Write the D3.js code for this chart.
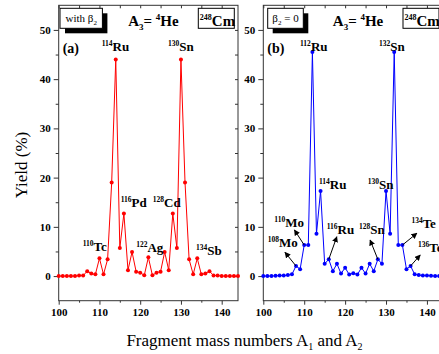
<!DOCTYPE html>
<html>
<head>
<meta charset="utf-8">
<script src="https://cdn.jsdelivr.net/npm/d3@7"></script>
<style>
  body { margin: 0; background: #fff; }
  text { font-family: "Liberation Serif", "Times New Roman", serif; }
</style>
</head>
<body>
<div id="chart"></div>
<script>
const width = 439;
const height = 354;

// mass numbers of the fragments
const massNumbers = [100, 101, 102, 103, 104, 105, 106, 107, 108, 109, 110, 111, 112, 113, 114,
  115, 116, 117, 118, 119, 120, 121, 122, 123, 124, 125, 126, 127, 128, 129, 130, 131, 132,
  133, 134, 135, 136, 137, 138, 139, 140, 141, 142, 143, 144];

// (a) with beta2
const yieldWithBeta = [0, 0, 0, 0, 0, 0.1, 0.1, 1.0, 0.5, 0.35, 3.6, 0.35, 3.4, 19.0, 44.0,
  5.7, 12.7, 1.2, 4.9, 0.9, 0.7, 0.15, 3.8, 0.15, 0.7, 0.9, 4.9, 1.2, 12.7, 5.7, 44.0, 19.0, 3.4,
  0.35, 3.6, 0.35, 0.5, 1.0, 0.1, 0.1, 0, 0, 0, 0, 0];

// (b) beta2 = 0
const yieldNoBeta = [0, 0, 0, 0.05, 0.1, 0.1, 0.2, 0.35, 2.05, 1.4, 6.3, 6.3, 45.5, 8.6, 17.3,
  2.5, 3.4, 1.0, 2.5, 0.5, 1.7, 0.3, 0.6, 0.3, 1.7, 0.5, 2.5, 1.0, 3.4, 2.5, 17.3, 8.6, 45.5,
  6.3, 6.3, 1.4, 2.05, 0.35, 0.2, 0.1, 0.1, 0.05, 0, 0, 0];

const xTicks = [100, 110, 120, 130, 140];
const xMinorTicks = [105, 115, 125, 135];
const yTicks = [0, 10, 20, 30, 40, 50];
const yMinorTicks = [5, 15, 25, 35, 45];

// peak labels: superscript, element, anchor in data units
const labelsA = [
  { sup: '114', el: 'Ru', x: 110.55, y: 45.66 },
  { sup: '130', el: 'Sn', x: 126.8, y: 45.66 },
  { sup: '116', el: 'Pd', x: 115.2, y: 14.0 },
  { sup: '128', el: 'Cd', x: 123.1, y: 14.06 },
  { sup: '110', el: 'Tc', x: 105.9, y: 5.16 },
  { sup: '122', el: 'Ag', x: 119.0, y: 4.95 },
  { sup: '134', el: 'Sb', x: 133.7, y: 4.28 }
];
const labelsB = [
  { sup: '112', el: 'Ru', x: 108.98, y: 45.66 },
  { sup: '132', el: 'Sn', x: 128.3, y: 45.66 },
  { sup: '114', el: 'Ru', x: 113.6, y: 17.67 },
  { sup: '130', el: 'Sn', x: 125.56, y: 17.73 },
  { sup: '110', el: 'Mo', x: 102.7, y: 9.93 },
  { sup: '108', el: 'Mo', x: 101.1, y: 5.85 },
  { sup: '116', el: 'Ru', x: 115.5, y: 8.56 },
  { sup: '128', el: 'Sn', x: 123.4, y: 8.56 },
  { sup: '134', el: 'Te', x: 136.2, y: 9.72 },
  { sup: '136', el: 'Te', x: 137.8, y: 4.95 }
];
// arrows in (b): from data point (mass) to head (x, y)
const arrowsB = [
  { mass: 110, x: 107.6, y: 9.38 },
  { mass: 108, x: 105.3, y: 4.83 },
  { mass: 116, x: 117.97, y: 8.0 },
  { mass: 128, x: 126.1, y: 7.34 },
  { mass: 134, x: 137.55, y: 8.7 },
  { mass: 136, x: 138.36, y: 4.28 }
];

const svg = d3.select('#chart')
  .append('svg')
  .attr('width', width)
  .attr('height', height);

svg.append('defs').append('marker')
  .attr('id', 'arrow')
  .attr('viewBox', '0 0 10 10')
  .attr('refX', 9)
  .attr('refY', 5)
  .attr('markerWidth', 6)
  .attr('markerHeight', 6)
  .attr('markerUnits', 'userSpaceOnUse')
  .attr('orient', 'auto')
  .append('path')
  .attr('d', 'M0,0L10,5L0,10z')
  .attr('fill', '#000');

const plotTop = 5.3, plotBottom = 300.7;

function addIsotope(g, x, y, sup, el, supSize, elSize) {
  const t = g.append('text')
    .attr('x', x)
    .attr('y', y)
    .attr('font-weight', 'bold');
  t.append('tspan').attr('font-size', supSize).attr('dy', -elSize * 0.38).text(sup);
  t.append('tspan').attr('font-size', elSize).attr('dy', elSize * 0.38).text(el);
  return t;
}

function drawPanel(cfg) {
  const x = d3.scaleLinear().domain([100, 144]).range([cfg.left, cfg.right]);
  const y = d3.scaleLinear().domain([-5, 55]).range([plotBottom, plotTop]);
  const g = svg.append('g');

  // frame
  g.append('rect')
    .attr('x', cfg.left).attr('y', plotTop)
    .attr('width', cfg.right - cfg.left).attr('height', plotBottom - plotTop)
    .attr('fill', 'none').attr('stroke', '#333').attr('stroke-width', 1);

  const xAxis = g.append('g')
    .attr('transform', `translate(0,${plotBottom})`)
    .call(d3.axisBottom(x).tickValues(xTicks).tickSize(4).tickPadding(4));
  xAxis.select('.domain').remove();
  xAxis.selectAll('text')
    .attr('font-family', '"Liberation Serif", serif')
    .attr('font-size', 11).attr('font-weight', 'bold').attr('fill', '#000');
  xAxis.selectAll('line').attr('stroke', '#333');

  g.append('g')
    .attr('transform', `translate(0,${plotBottom})`)
    .call(d3.axisBottom(x).tickValues(xMinorTicks).tickSize(2).tickFormat(''))
    .call(a => a.select('.domain').remove())
    .selectAll('line').attr('stroke', '#333');

  g.append('g')
    .attr('transform', `translate(0,${plotTop})`)
    .call(d3.axisBottom(x).tickValues(xTicks.concat(xMinorTicks)).tickSize(3).tickFormat(''))
    .call(a => a.select('.domain').remove())
    .selectAll('line').attr('stroke', '#333');

  const yAxis = g.append('g')
    .attr('transform', `translate(${cfg.left},0)`)
    .call(d3.axisLeft(y).tickValues(yTicks).tickSize(5).tickPadding(3));
  yAxis.select('.domain').remove();
  yAxis.selectAll('text')
    .attr('font-family', '"Liberation Serif", serif')
    .attr('font-size', 11).attr('font-weight', 'bold').attr('fill', '#000');
  yAxis.selectAll('line').attr('stroke', '#333');

  g.append('g')
    .attr('transform', `translate(${cfg.left},0)`)
    .call(d3.axisLeft(y).tickValues(yMinorTicks).tickSize(3).tickFormat(''))
    .call(a => a.select('.domain').remove())
    .selectAll('line').attr('stroke', '#333');

  g.append('g')
    .attr('transform', `translate(${cfg.right},0)`)
    .call(d3.axisLeft(y).tickValues(yTicks.concat(yMinorTicks)).tickSize(3).tickFormat(''))
    .call(a => a.select('.domain').remove())
    .selectAll('line').attr('stroke', '#333');

  // series
  const pts = massNumbers.map((m, i) => ({ m, v: cfg.values[i] }));
  g.append('path')
    .datum(pts)
    .attr('fill', 'none')
    .attr('stroke', cfg.color)
    .attr('stroke-width', 1)
    .attr('d', d3.line().x(d => x(d.m)).y(d => y(d.v)));
  g.selectAll('.dot')
    .data(pts)
    .enter()
    .append('circle')
    .attr('cx', d => x(d.m))
    .attr('cy', d => y(d.v))
    .attr('r', 2)
    .attr('fill', cfg.color);

  // peak labels
  cfg.labels.forEach(l => addIsotope(g, x(l.x), y(l.y), l.sup, l.el, 7.5, 13));

  // arrows
  (cfg.arrows || []).forEach(a => {
    const v = cfg.values[massNumbers.indexOf(a.mass)];
    g.append('line')
      .attr('x1', x(a.mass)).attr('y1', y(v))
      .attr('x2', x(a.x)).attr('y2', y(a.y))
      .attr('stroke', '#000').attr('stroke-width', 1)
      .attr('marker-end', 'url(#arrow)');
  });

  // top-left shadow box
  const bx = cfg.left + cfg.boxDx, bw = cfg.boxW;
  g.append('rect').attr('x', bx + 5).attr('y', 13.3).attr('width', bw).attr('height', 20).attr('fill', '#000');
  g.append('rect').attr('x', bx).attr('y', 8.3).attr('width', bw).attr('height', 20)
    .attr('fill', '#fff').attr('stroke', '#000').attr('stroke-width', 1);
  const bt = g.append('text').attr('x', bx + bw / 2).attr('y', 22).attr('text-anchor', 'middle').attr('font-size', 11);
  cfg.boxText(bt);

  // A3 = 4He
  const ht = g.append('text').attr('x', cfg.left + 69.5).attr('y', 26)
    .attr('font-size', 15).attr('font-weight', 'bold');
  ht.append('tspan').text('A');
  ht.append('tspan').attr('font-size', 9).attr('dy', 4).text('3');
  ht.append('tspan').attr('dy', -4).text('= ');
  ht.append('tspan').attr('font-size', 9).attr('dy', -6).text('4');
  ht.append('tspan').attr('dy', 6).text('He');

  // 248Cm box
  const cx = cfg.left + cfg.cmDx;
  g.append('rect').attr('x', cx).attr('y', 8.3).attr('width', 36).attr('height', 20)
    .attr('fill', '#fff').attr('stroke', '#000').attr('stroke-width', 1);
  addIsotope(g, cx + 1.5, 25.5, '248', 'Cm', 8, 15);

  // panel letter
  g.append('text').attr('x', cfg.left + 4).attr('y', 52.7)
    .attr('font-size', 14).attr('font-weight', 'bold').text(cfg.letter);
}

drawPanel({
  left: 58.7, right: 238, color: '#ff0000', values: yieldWithBeta, labels: labelsA,
  letter: '(a)', boxDx: 1.3, boxW: 42.4, cmDx: 139.6,
  boxText: t => {
    t.append('tspan').text('with \u03b2');
    t.append('tspan').attr('font-size', 7).attr('dy', 3).text('2');
  }
});

drawPanel({
  left: 263.3, right: 443.3, color: '#0000ff', values: yieldNoBeta, labels: labelsB, arrows: arrowsB,
  letter: '(b)', boxDx: 4.4, boxW: 35.6, cmDx: 139.7,
  boxText: t => {
    t.append('tspan').text('\u03b2');
    t.append('tspan').attr('font-size', 7).attr('dy', 3).text('2');
    t.append('tspan').attr('dy', -3).text(' = 0');
  }
});

// axis titles
svg.append('text')
  .attr('transform', 'translate(27,165) rotate(-90)')
  .attr('text-anchor', 'middle')
  .attr('font-size', 17)
  .text('Yield (%)');

const xt = svg.append('text')
  .attr('x', 244.5).attr('y', 346)
  .attr('text-anchor', 'middle')
  .attr('font-size', 17);
xt.append('tspan').text('Fragment mass numbers A');
xt.append('tspan').attr('font-size', 10).attr('dy', 4).text('1');
xt.append('tspan').attr('dy', -4).text(' and A');
xt.append('tspan').attr('font-size', 10).attr('dy', 4).text('2');
</script>
</body>
</html>
